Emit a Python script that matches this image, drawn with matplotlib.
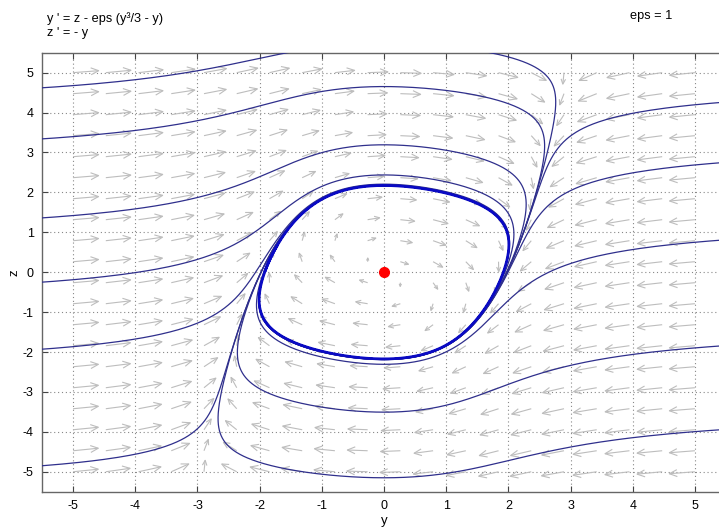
import numpy as np
import matplotlib
matplotlib.use("Agg")
import matplotlib.pyplot as plt
from matplotlib.collections import LineCollection

plt.rcParams['font.family'] = ['Liberation Sans', 'DejaVu Sans']

# system: y' = z - eps (y^3/3 - y),  z' = -y
eps = 1.0
x_limits = (-5.5, 5.5)
z_limits = (-5.5, 5.5)
tick_values = [-5, -4, -3, -2, -1, 0, 1, 2, 3, 4, 5]
tick_labels = ["-5", "-4", "-3", "-2", "-1", "0", "1", "2", "3", "4", "5"]

# direction-field sample points (20 x 20)
arrow_cols = np.linspace(-5, 5, 20)
arrow_rows = np.linspace(-5, 5, 20)

# starting points of the plotted solutions
left_x = -5.5
left_z = [4.62, 3.34, 1.36, -0.25, -1.93, -4.85]
right_x = 5.39
right_z = [4.25, 2.74, 0.80, -1.85, -3.95]
cycle_start = (2.0, 0.0)
equilibrium = (0.0, 0.0)


def field(y, z):
    return z - eps * (y ** 3 / 3.0 - y), -y


def solve(y0, z0, t_end, dt, box):
    pts = [(y0, z0)]
    y, z = y0, z0
    n = int(abs(t_end) / dt)
    h = dt if t_end > 0 else -dt
    for _ in range(n):
        k1 = field(y, z)
        k2 = field(y + h / 2 * k1[0], z + h / 2 * k1[1])
        k3 = field(y + h / 2 * k2[0], z + h / 2 * k2[1])
        k4 = field(y + h * k3[0], z + h * k3[1])
        y += h / 6 * (k1[0] + 2 * k2[0] + 2 * k3[0] + k4[0])
        z += h / 6 * (k1[1] + 2 * k2[1] + 2 * k3[1] + k4[1])
        pts.append((y, z))
        if abs(y) > box or abs(z) > box:
            break
    return np.array(pts)


fig = plt.figure(figsize=(7.19, 5.27), dpi=100)
ax = fig.add_axes([42 / 719, 35.3 / 527, 684 / 719, 439 / 527])
ax.set_xlim(*x_limits)
ax.set_ylim(*z_limits)

# direction field: open-headed gray arrows drawn from each sample point
to_px = ax.transData
to_data = ax.transData.inverted()
segs = []
for yy in arrow_cols:
    for zz in arrow_rows:
        u, v = field(yy, zz)
        m = np.hypot(u, v)
        if m == 0:
            continue
        L = 0.43 * (m / (m + 2.5)) ** 0.65
        tip = (yy + L * u / m, zz + L * v / m)
        p0 = to_px.transform((yy, zz))
        p1 = to_px.transform(tip)
        d = p1 - p0
        lp = np.hypot(*d)
        if lp < 0.5:
            continue
        dirv = d / lp
        hl = min(0.35 * lp + 1.5, 8.5)
        ang = np.deg2rad(24)
        rot = lambda a: np.array([dirv[0] * np.cos(a) - dirv[1] * np.sin(a),
                                  dirv[0] * np.sin(a) + dirv[1] * np.cos(a)])
        h1 = p1 - hl * rot(ang)
        h2 = p1 - hl * rot(-ang)
        P = to_data.transform(np.array([p0, p1, h1, h2]))
        segs.append([P[0], P[1]])
        segs.append([P[2], P[1], P[3]])
ax.add_collection(LineCollection(segs, colors='#bdbdbd', linewidths=0.8, zorder=2))

# solution curves
traj_color = '#2f2f8c'
starts = [(left_x, z) for z in left_z] + [(right_x, z) for z in right_z]
for y0, z0 in starts:
    fwd = solve(y0, z0, 25.0, 0.004, 14.0)
    bwd = solve(y0, z0, -4.0, 0.004, 8.0)
    path = np.vstack([bwd[::-1], fwd[1:]])
    ax.plot(path[:, 0], path[:, 1], color=traj_color, lw=0.9, zorder=3)

# limit cycle
warm = solve(cycle_start[0], cycle_start[1], 30.0, 0.004, 14.0)
cyc = solve(warm[-1, 0], warm[-1, 1], 7.0, 0.004, 14.0)
ax.plot(cyc[:, 0], cyc[:, 1], color='#0a0ac4', lw=2.0, zorder=4)

ax.plot([equilibrium[0]], [equilibrium[1]], 'o', color='#ff0000', ms=7, zorder=5)

ax.set_xticks(tick_values)
ax.set_xticklabels(tick_labels)
ax.set_yticks(tick_values)
ax.set_yticklabels(tick_labels)
ax.tick_params(direction='in', top=True, right=True, length=4, width=0.8,
               labelsize=9, colors='#444444', labelcolor='black', pad=6)
ax.grid(True, linestyle=(0, (1, 2.5)), color='#888888', linewidth=0.8, zorder=1)
for s in ax.spines.values():
    s.set_color('#666666')
    s.set_linewidth(1.0)

ax.set_xlabel('y', fontsize=9.5, labelpad=2)
ax.set_ylabel('z', fontsize=9.5, labelpad=0)
ax.yaxis.set_label_coords(-22 / 684, 0.5)

fig.text(47 / 719, 1 - 19 / 527, "y ' = z - eps (y³/3 - y)", fontsize=9.2, va='center', ha='left')
fig.text(47 / 719, 1 - 33 / 527, "z ' = - y", fontsize=9.2, va='center', ha='left')
fig.text(630 / 719, 1 - 16 / 527, "eps = 1", fontsize=9.2, va='center', ha='left')

fig.savefig('out.png', dpi=100)
